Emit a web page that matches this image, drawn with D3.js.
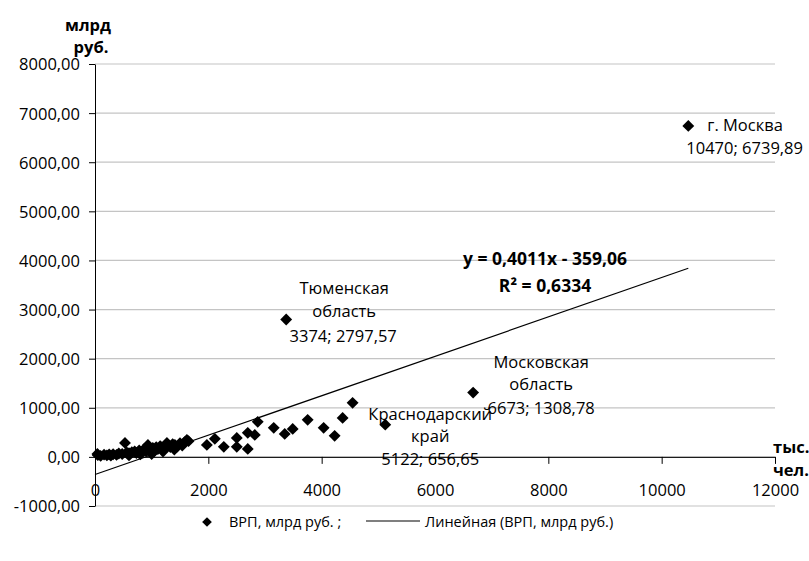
<!DOCTYPE html>
<html><head><meta charset="utf-8">
<script src="https://cdn.jsdelivr.net/npm/d3@7"></script>
<style>body{margin:0;background:#fff}text{font-family:"Open Sans","Noto Sans",sans-serif}</style>
</head><body><svg id="c" width="809" height="561"></svg>
<script>
const popX = [50,42,100,160,210,250,280,320,380,420,480,529,560,600,650,700,730,780,820,860,900,934,960,990,1020,1050,1080,1110,1150,1180,1230,1269,1290,1330,1370,1410,1450,1500,1540,1580,1621,1650,1000,1200,800,1400,600,
 1974,2115,2273,2502,2502,2696,2696,2820,2872,3154,3348,3489,3753,4035,4229,4370,4546,3374,5122,6673,10470];
const grpY = [35,60,20,45,30,50,25,55,40,70,60,285,90,75,95,110,80,130,100,150,120,244,170,140,180,130,200,160,220,190,170,285,230,200,260,244,210,280,230,300,346,320,60,110,50,150,30,
 244,367,204,387,204,489,163,448,713,591,468,570,754,591,428,794,1100,2797.57,656.65,1308.78,6739.89];
const xTicks = [0,2000,4000,6000,8000,10000,12000];
const yTicks = [-1000,0,1000,2000,3000,4000,5000,6000,7000,8000];
const slope = 0.4011, intercept = -359.06;
const labels = [
 {x:10470,y:6739.89,lines:["г. Москва","10470; 6739,89"]},
 {x:3374,y:2797.57,lines:["Тюменская","область","3374; 2797,57"]},
 {x:6673,y:1308.78,lines:["Московская","область","6673; 1308,78"]},
 {x:5122,y:656.65,lines:["Краснодарский","край","5122; 656,65"]}
];

const svg = d3.select("#c");
const x = d3.scaleLinear().domain([0,12000]).range([95,775]);
const y = d3.scaleLinear().domain([-1000,8000]).range([506,64]);
const fmtY = v => v.toFixed(2).replace(".",",");
const FS = 16.5;

// gridlines
svg.append("g").selectAll("line").data(yTicks).join("line")
 .attr("x1",x(0)).attr("x2",x(12000)).attr("y1",d=>y(d)).attr("y2",d=>y(d))
 .attr("stroke","#c4c4c4").attr("stroke-width",1.2);

// y axis
const ya = svg.append("g").attr("transform",`translate(${x(0)},0)`)
 .call(d3.axisLeft(y).tickValues(yTicks).tickFormat(fmtY).tickSize(6).tickSizeOuter(0));
ya.attr("font-family",null).attr("font-size",null);
ya.select(".domain").attr("stroke","#000");
ya.selectAll(".tick line").attr("stroke","#000");
ya.selectAll("text").attr("font-size",FS).attr("fill","#000").attr("x",-15).attr("dy","0.36em");

// x axis at y=0
const xa = svg.append("g").attr("transform",`translate(0,${y(0)})`)
 .call(d3.axisBottom(x).tickValues(xTicks).tickFormat(d => String(d)).tickSize(7).tickSizeOuter(0));
xa.attr("font-family",null).attr("font-size",null);
xa.select(".domain").attr("stroke","#000");
xa.selectAll(".tick line").attr("stroke","#000");
xa.selectAll("text").attr("font-size",FS).attr("fill","#000").attr("y",39).attr("dy",0);

// trend line
svg.append("line").attr("x1",x(0)).attr("y1",y(intercept))
 .attr("x2",x(10470)).attr("y2",y(slope*10470+intercept))
 .attr("stroke","#000").attr("stroke-width",1.2);

// points
const pts = popX.map((v,i)=>[v,grpY[i]]);
svg.append("g").selectAll("path").data(pts).join("path")
 .attr("d",d3.symbol(d3.symbolDiamond2,90)())
 .attr("transform",d=>`translate(${x(d[0])},${y(d[1])})`).attr("fill","#000");

// data labels
function lab(l, dxs, dys, anchor){
 const px = x(l.x), py = y(l.y);
 const t = svg.append("text").attr("font-size",FS).attr("fill","#000").attr("text-anchor",anchor);
 l.lines.forEach((s,i)=>t.append("tspan").attr("x",px+dxs[i]).attr("y",py+dys[i]).text(s));
}
lab(labels[0],[19,-2],[5,28],"start");
lab(labels[1],[58,58,57],[-25,-2,23],"middle");
lab(labels[2],[68,68,68],[-25,-3,21],"middle");
lab(labels[3],[45,45,45],[-5,17,40],"middle");

// regression text
svg.append("text").attr("x",545).attr("y",265).attr("text-anchor","middle").attr("font-size",17.5).attr("font-weight","bold").text("y = 0,4011x - 359,06");
svg.append("text").attr("x",545).attr("y",292).attr("text-anchor","middle").attr("font-size",17.5).attr("font-weight","bold").text("R² = 0,6334");

// axis titles
svg.append("text").attr("x",88).attr("y",31).attr("text-anchor","middle").attr("font-size",FS).attr("font-weight","bold").text("млрд");
svg.append("text").attr("x",91).attr("y",53).attr("text-anchor","middle").attr("font-size",FS).attr("font-weight","bold").text("руб.");
svg.append("text").attr("x",773).attr("y",453).attr("font-size",FS).attr("font-weight","bold").text("тыс.");
svg.append("text").attr("x",773).attr("y",476).attr("font-size",FS).attr("font-weight","bold").text("чел.");

// legend
const lg = svg.append("g");
lg.append("path").attr("d",d3.symbol(d3.symbolDiamond2,60)()).attr("transform","translate(207,522)");
lg.append("text").attr("x",229).attr("y",527).attr("font-size",14.5).text("ВРП, млрд руб. ;");
lg.append("line").attr("x1",366).attr("x2",420).attr("y1",521).attr("y2",521).attr("stroke","#000").attr("stroke-width",1.2);
lg.append("text").attr("x",425).attr("y",527).attr("font-size",14.5).text("Линейная (ВРП, млрд руб.)");
</script></body></html>
